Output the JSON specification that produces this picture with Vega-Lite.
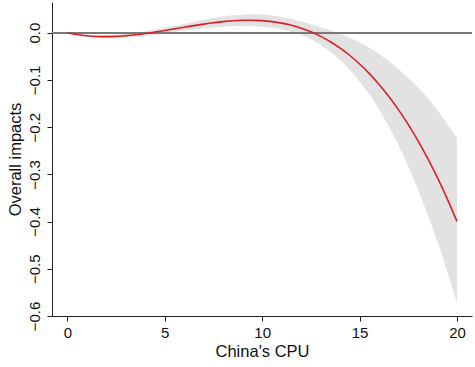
{
  "$schema": "https://vega.github.io/schema/vega-lite/v6.json",
  "width": 420,
  "height": 314,
  "autosize": {"type": "none"},
  "padding": {"left": 52, "top": 2, "right": 3, "bottom": 51},
  "background": "white",
  "config": {
    "view": {"stroke": null},
    "font": "Liberation Sans",
    "axis": {"grid": false, "domainColor": "#222222", "tickColor": "#222222", "labelColor": "#111111", "titleColor": "#111111", "labelFont": "Liberation Sans", "titleFont": "Liberation Sans", "labelFontSize": 15, "titleFontSize": 16.5, "titleFontWeight": "normal", "tickSize": 5, "domainWidth": 1, "tickWidth": 1}
  },
  "data": {"values": [
    {"x": 0, "fit": 0, "lo": 0, "hi": 0},
    {"x": 0.5, "fit": -0.0040, "lo": -0.0048, "hi": -0.0032},
    {"x": 1, "fit": -0.0066, "lo": -0.0081, "hi": -0.0051},
    {"x": 1.5, "fit": -0.0080, "lo": -0.0102, "hi": -0.0058},
    {"x": 2, "fit": -0.0084, "lo": -0.0114, "hi": -0.0054},
    {"x": 2.5, "fit": -0.0078, "lo": -0.0113, "hi": -0.0043},
    {"x": 3, "fit": -0.0064, "lo": -0.0104, "hi": -0.0024},
    {"x": 3.5, "fit": -0.0044, "lo": -0.0089, "hi": 0.0001},
    {"x": 4, "fit": -0.0018, "lo": -0.0068, "hi": 0.0032},
    {"x": 4.5, "fit": 0.0013, "lo": -0.0042, "hi": 0.0068},
    {"x": 5, "fit": 0.0046, "lo": -0.0014, "hi": 0.0106},
    {"x": 5.5, "fit": 0.0081, "lo": 0.0016, "hi": 0.0146},
    {"x": 6, "fit": 0.0116, "lo": 0.0046, "hi": 0.0186},
    {"x": 6.5, "fit": 0.0150, "lo": 0.0070, "hi": 0.0230},
    {"x": 7, "fit": 0.0182, "lo": 0.0092, "hi": 0.0272},
    {"x": 7.5, "fit": 0.0211, "lo": 0.0111, "hi": 0.0311},
    {"x": 8, "fit": 0.0234, "lo": 0.0124, "hi": 0.0344},
    {"x": 8.5, "fit": 0.0252, "lo": 0.0137, "hi": 0.0367},
    {"x": 9, "fit": 0.0262, "lo": 0.0142, "hi": 0.0382},
    {"x": 9.5, "fit": 0.0263, "lo": 0.0138, "hi": 0.0388},
    {"x": 10, "fit": 0.0255, "lo": 0.0125, "hi": 0.0385},
    {"x": 10.5, "fit": 0.0235, "lo": 0.0105, "hi": 0.0365},
    {"x": 11, "fit": 0.0203, "lo": 0.0073, "hi": 0.0333},
    {"x": 11.5, "fit": 0.0157, "lo": 0.0022, "hi": 0.0292},
    {"x": 12, "fit": 0.0095, "lo": -0.0045, "hi": 0.0240},
    {"x": 12.5, "fit": 0.0018, "lo": -0.0137, "hi": 0.0180},
    {"x": 13, "fit": -0.0078, "lo": -0.0258, "hi": 0.0115},
    {"x": 13.5, "fit": -0.0192, "lo": -0.0402, "hi": 0.0045},
    {"x": 14, "fit": -0.0327, "lo": -0.0577, "hi": -0.0030},
    {"x": 14.5, "fit": -0.0483, "lo": -0.0783, "hi": -0.0110},
    {"x": 15, "fit": -0.0663, "lo": -0.1033, "hi": -0.0200},
    {"x": 15.5, "fit": -0.0866, "lo": -0.1306, "hi": -0.0320},
    {"x": 16, "fit": -0.1095, "lo": -0.1625, "hi": -0.0450},
    {"x": 16.5, "fit": -0.1350, "lo": -0.1980, "hi": -0.0600},
    {"x": 17, "fit": -0.1634, "lo": -0.2384, "hi": -0.0770},
    {"x": 17.5, "fit": -0.1947, "lo": -0.2827, "hi": -0.0960},
    {"x": 18, "fit": -0.2290, "lo": -0.3320, "hi": -0.1160},
    {"x": 18.5, "fit": -0.2666, "lo": -0.3856, "hi": -0.1390},
    {"x": 19, "fit": -0.3075, "lo": -0.4435, "hi": -0.1650},
    {"x": 19.5, "fit": -0.3518, "lo": -0.5058, "hi": -0.1940},
    {"x": 20, "fit": -0.3997, "lo": -0.5727, "hi": -0.2230}
  ]},
  "layer": [
    {
      "mark": {"type": "area", "color": "#e2e2e2", "interpolate": "monotone", "opacity": 1},
      "encoding": {
        "x": {"field": "x", "type": "quantitative", "scale": {"domain": [-0.79, 20.77], "nice": false, "zero": false},
              "axis": {"values": [0, 5, 10, 15, 20], "title": "China's CPU", "titlePadding": 3, "labelPadding": 4, "format": "d"}},
        "y": {"field": "lo", "type": "quantitative", "scale": {"domain": [-0.6, 0.065], "nice": false, "zero": false},
              "axis": {"values": [-0.6, -0.5, -0.4, -0.3, -0.2, -0.1, 0], "format": ".1f", "labelAngle": -90, "labelAlign": "center", "labelBaseline": "bottom", "labelPadding": 5, "title": "Overall impacts", "titlePadding": 4}},
        "y2": {"field": "hi"}
      }
    },
    {
      "mark": {"type": "rule", "color": "#7a7a7a", "strokeWidth": 1.2},
      "encoding": {"y": {"datum": 0}}
    },
    {
      "mark": {"type": "line", "color": "#dc1f26", "strokeWidth": 1.6, "interpolate": "monotone"},
      "encoding": {
        "x": {"field": "x", "type": "quantitative"},
        "y": {"field": "fit", "type": "quantitative"}
      }
    }
  ]
}
